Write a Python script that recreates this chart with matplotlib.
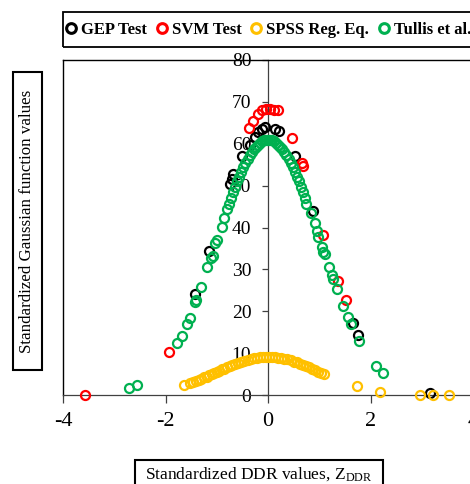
import matplotlib
matplotlib.use("Agg")
import matplotlib.pyplot as plt
from matplotlib.patches import Rectangle
from matplotlib.lines import Line2D

plt.rcParams['font.family'] = ['Liberation Serif', 'DejaVu Serif']
plt.rcParams['mathtext.fontset'] = 'stix'
plt.rcParams['axes.unicode_minus'] = False

# GEP test set
gep_x = [-1.42, -1.16, -0.74, -0.71, -0.68, -0.51, -0.35, -0.25, -0.19, -0.12,
         -0.06, 0.14, 0.21, 0.53, 0.88, 1.66, 1.76, 3.17]
gep_y = [24.1, 34.4, 50.5, 51.7, 52.7, 57.0, 59.7, 61.6, 62.8, 63.6,
         64.0, 63.6, 63.1, 57.0, 43.9, 17.1, 14.3, 0.5]

# SVM test set
svm_x = [-3.57, -1.93, -0.37, -0.30, -0.19, -0.11, -0.03, 0.04, 0.12, 0.19,
         0.46, 0.66, 0.69, 1.08, 1.37, 1.52]
svm_y = [0.0, 10.3, 63.7, 65.4, 67.0, 68.0, 68.3, 68.3, 68.0, 68.0,
         61.4, 55.5, 54.7, 38.2, 27.3, 22.8]

# SPSS regression equation
spss_x = [-1.64, -1.52, -1.46, -1.40, -1.35, -1.30, -1.25, -1.20, -1.15, -1.10,
          -1.05, -1.00, -0.95, -0.90, -0.85, -0.80, -0.75, -0.70, -0.64, -0.58,
          -0.52, -0.46, -0.40, -0.34, -0.28, -0.22, -0.16, -0.10, -0.04, 0.02,
          0.08, 0.14, 0.20, 0.26, 0.32, 0.38, 0.44, 0.50, 0.56, 0.62,
          0.68, 0.74, 0.80, 0.86, 0.92, 0.98, 1.04, 1.09,
          1.74, 2.18, 2.96, 3.22, 3.53]
spss_y = [2.4, 2.9, 3.1, 3.4, 3.7, 3.9, 4.2, 4.4, 4.7, 5.0,
          5.2, 5.5, 5.8, 6.1, 6.3, 6.6, 6.9, 7.1, 7.4, 7.7,
          8.0, 8.2, 8.4, 8.6, 8.8, 8.9, 9.0, 9.0, 9.1, 9.1,
          9.1, 9.0, 8.9, 8.8, 8.6, 8.5, 8.3, 8.0, 7.8, 7.5,
          7.2, 6.9, 6.6, 6.3, 6.0, 5.6, 5.3, 5.0,
          2.1, 0.8, 0.1, 0.1, 0.1]

# Tullis et al.
tul_x = [-2.72, -2.56, -1.78, -1.68, -1.58, -1.53, -1.42, -1.40, -1.31, -1.19,
         -1.12, -1.08, -1.03, -0.99, -0.90, -0.86,
         -0.80, -0.76, -0.72, -0.68, -0.64, -0.60, -0.56, -0.52, -0.48, -0.44,
         -0.40, -0.36, -0.32, -0.28, -0.24, -0.20, -0.16, -0.12, -0.08, -0.04,
         0.00, 0.04, 0.08, 0.12, 0.16, 0.20, 0.24, 0.28, 0.32, 0.36,
         0.40, 0.44, 0.48, 0.52, 0.56, 0.60, 0.64, 0.68, 0.72,
         0.75, 0.83, 0.92, 0.95, 0.98, 1.05, 1.08, 1.11, 1.19, 1.24,
         1.27, 1.35, 1.46, 1.57, 1.61, 1.78, 2.11, 2.25]
tul_y = [1.6, 2.4, 12.5, 14.1, 16.9, 18.5, 22.3, 22.8, 25.7, 30.6,
         32.6, 33.2, 36.2, 37.0, 40.2, 42.2,
         44.3, 45.7, 47.1, 48.4, 49.7, 51.0, 52.1, 53.3, 54.4, 55.4,
         56.3, 57.2, 58.0, 58.7, 59.3, 59.8, 60.2, 60.6, 60.8, 61.0,
         61.0, 61.0, 60.8, 60.6, 60.2, 59.8, 59.3, 58.7, 58.0, 57.2,
         56.3, 55.4, 54.4, 53.3, 52.1, 51.0, 49.7, 48.4, 47.1,
         45.7, 43.5, 41.0, 39.2, 37.8, 35.4, 34.2, 33.7, 30.6, 28.6,
         27.6, 25.2, 21.2, 18.7, 16.9, 13.0, 6.9, 5.2]

series = [
    ("GEP Test", gep_x, gep_y, "black"),
    ("SVM Test", svm_x, svm_y, "#ff0000"),
    ("SPSS Reg. Eq.", spss_x, spss_y, "#ffc000"),
    ("Tullis et al.", tul_x, tul_y, "#00b050"),
]

W, H = 470, 484
fig = plt.figure(figsize=(W / 100, H / 100), dpi=100)
ax = fig.add_axes([63 / W, 89 / H, 410 / W, 335 / H])

for name, xs, ys, c in series:
    ax.plot(xs, ys, linestyle="none", marker="o", markersize=6.5,
            markerfacecolor="none", markeredgecolor=c, markeredgewidth=1.6,
            clip_on=False, zorder=3)

ax.set_xlim(-4, 4)
ax.set_ylim(0, 80)
ax.set_xticks([-4, -2, 0, 2, 4])
ax.set_yticks(range(0, 81, 10))

# y axis crosses at x = 0, plot area framed
ax.spines['left'].set_position(('data', 0))
ax.spines['right'].set_visible(False)
for s in ['left', 'bottom']:
    ax.spines[s].set_color('#404040')
    ax.spines[s].set_linewidth(0.9)
ax.spines['top'].set_linewidth(1.0)
ax.axvline(-4, color='black', lw=1.0, clip_on=False)

ax.tick_params(axis='x', direction='out', length=6, width=0.9, color='#404040',
               labelsize=16, pad=6)
ax.tick_params(axis='y', direction='out', length=4, width=0.9, color='#404040',
               labelsize=14, pad=8)

# legend along the top
handles = [Line2D([], [], linestyle="none", marker="o", markersize=7,
                  markerfacecolor="none", markeredgecolor=c, markeredgewidth=2.2)
           for _, _, _, c in series]
fig.legend(handles, [s[0] for s in series], loc="center left",
           bbox_to_anchor=(64 / W, 1 - 29.5 / H), ncol=4, frameon=False,
           borderpad=0, borderaxespad=0,
           handlelength=0.8, handletextpad=0.2, columnspacing=0.5,
           prop={'weight': 'bold', 'size': 12})
fig.patches.append(Rectangle((63 / W, 1 - 47 / H), 420 / W, 35 / H,
                             transform=fig.transFigure, fill=False,
                             edgecolor='black', lw=1.3))

# boxed axis titles
fig.patches.append(Rectangle((13 / W, 1 - 370 / H), 29 / W, 298 / H,
                             transform=fig.transFigure, facecolor='white',
                             edgecolor='black', lw=1.5))
fig.text(27.5 / W, 1 - 221 / H, "Standardized Gaussian function values",
         rotation=90, ha='center', va='center', fontsize=12.2)
fig.patches.append(Rectangle((135 / W, 1 - 495 / H), 248 / W, 35 / H,
                             transform=fig.transFigure, facecolor='white',
                             edgecolor='black', lw=1.5))
fig.text(259 / W, 1 - 474 / H,
         r"Standardized DDR values, Z$_{\mathregular{DDR}}$",
         ha='center', va='center', fontsize=12.5)

fig.savefig("out.png", dpi=100)
